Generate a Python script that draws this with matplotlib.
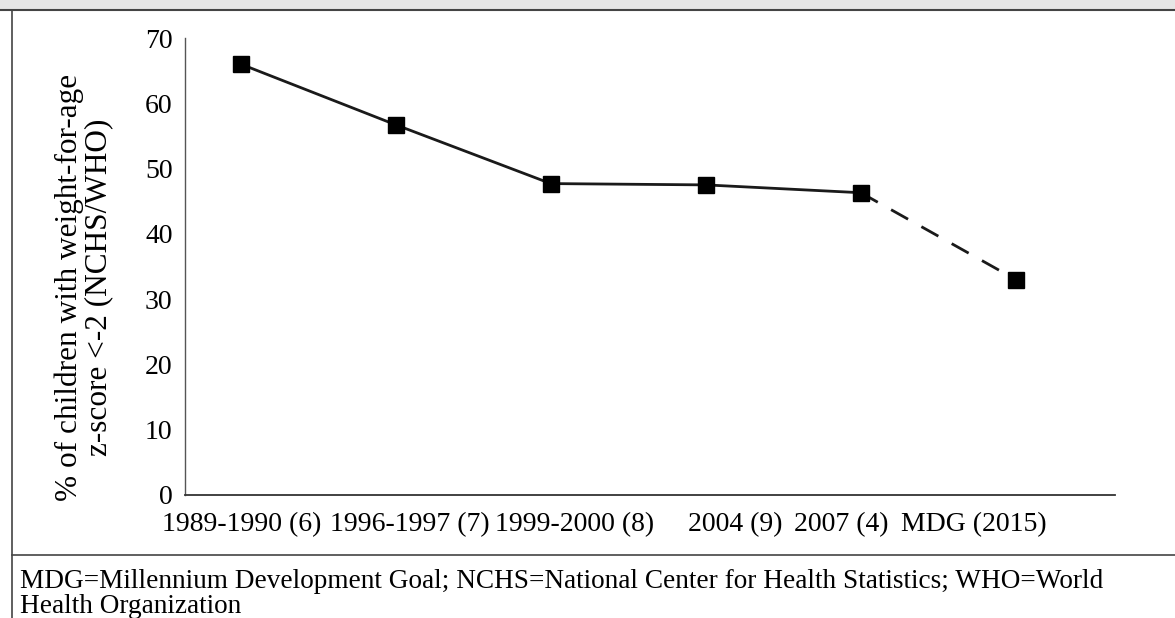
import matplotlib
matplotlib.use("Agg")
import matplotlib.pyplot as plt
import matplotlib.transforms as mtransforms
from matplotlib.lines import Line2D
from matplotlib.patches import Rectangle

plt.rcParams['font.family'] = ['Liberation Serif', 'DejaVu Serif']

# survey labels and underweight prevalence (%)
surveys = ['1989-1990 (6)', '1996-1997 (7)', '1999-2000 (8)', '2004 (9)', '2007 (4)', 'MDG (2015)']
prevalence = [66.0, 56.7, 47.7, 47.5, 46.3, 33.0]
y_ticks = [0, 10, 20, 30, 40, 50, 60, 70]
y_label = '% of children with weight-for-age\nz-score <-2 (NCHS/WHO)'
footnote = ('MDG=Millennium Development Goal; NCHS=National Center for Health Statistics; WHO=World\n'
            'Health Organization')

fig = plt.figure(figsize=(11.75, 6.18), dpi=100)
W, H = 1175, 618

# frame around the figure like the journal layout
fig.add_artist(Rectangle((0, 1 - 10 / H), 1, 10 / H, transform=fig.transFigure,
                         facecolor='#e6e6e6', edgecolor='none'))
fig.add_artist(Line2D([0, 1], [1 - 10 / H, 1 - 10 / H], transform=fig.transFigure,
                      color='#444444', lw=1.5))
fig.add_artist(Line2D([12 / W, 12 / W], [0, 1 - 10 / H], transform=fig.transFigure,
                      color='#444444', lw=1.2))
fig.add_artist(Line2D([12 / W, 1], [1 - 555 / H, 1 - 555 / H], transform=fig.transFigure,
                      color='#444444', lw=1.2))

ax = fig.add_axes([185 / W, 123 / H, 930 / W, 457 / H])
x = list(range(len(surveys)))

# observed surveys: solid; projection to MDG target: dashed
ax.plot(x[:5], prevalence[:5], color='#1a1a1a', lw=2.0, zorder=2)
ax.plot(x[4:], prevalence[4:], color='#1a1a1a', lw=2.0, dashes=(7, 5.5), zorder=2)
ax.plot(x, prevalence, ls='none', marker='s', ms=11.5, color='black', zorder=3)

ax.set_xlim(-0.36, 5.64)
ax.set_ylim(0, 70)
ax.set_yticks(y_ticks)
ax.set_xticks(x)
ax.set_xticklabels(surveys)
ax.tick_params(axis='both', length=0, labelsize=20)
ax.tick_params(axis='y', pad=9)
ax.tick_params(axis='x', pad=12)

# category labels sit a bit off their points in the original layout (pixels)
label_shift = [1, 14, 24, 29, -20, -42]
for lab, dx in zip(ax.get_xticklabels(), label_shift):
    lab.set_transform(lab.get_transform() +
                      mtransforms.ScaledTranslation(dx / 100, 0, fig.dpi_scale_trans))

for s in ['top', 'right']:
    ax.spines[s].set_visible(False)
ax.spines['left'].set_color('#555555')
ax.spines['bottom'].set_color('#333333')
ax.spines['left'].set_linewidth(1.0)
ax.spines['bottom'].set_linewidth(1.3)

fig.text(84 / W, 1 - 287 / H, y_label, rotation=90, ha='center', va='center',
         fontsize=22.5, linespacing=1.0)

fig.text(20 / W, 1 - 569 / H, footnote, ha='left', va='top', fontsize=19.6,
         linespacing=0.98)

fig.savefig('out.png', dpi=100)
